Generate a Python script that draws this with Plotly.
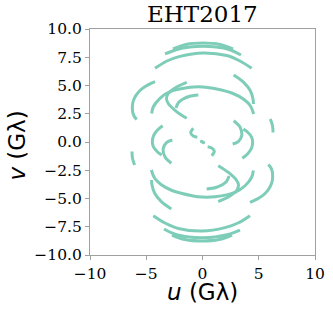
import plotly.graph_objects as go

# uv tracks (one of each conjugate pair); units: G-lambda
a1_u = [-3.33, -2.27, -1.11, 0.04, 1.2, 2.36, 3.42]
a1_v = [7.79, 8.19, 8.41, 8.47, 8.41, 8.19, 7.70]
a2_u = [-2.62, -1.47, 0.04, 1.56, 2.71]
a2_v = [8.23, 8.63, 8.76, 8.63, 8.23]
b_u = [-4.22, -3.16, -2.0, 0.04, 2.15, 3.33, 4.37]
b_v = [6.52, 7.17, 7.58, 7.88, 7.65, 7.17, 6.52]
c_u = [2.77, 3.66, 4.25, 4.49, 4.53]
c_v = [5.93, 5.28, 4.54, 3.81, 3.36]
d_u = [-4.52, -4.37, -3.78, -2.89, -1.11, 0.04, 0.93, 2.71, 3.69, 4.25, 4.55]
d_v = [2.52, 3.12, 3.87, 4.45, 4.84, 4.87, 4.75, 4.29, 3.76, 3.21, 2.48]
e_u = [-4.22, -5.02, -5.56, -6.0, -6.2, -6.22, -6.09, -5.85]
e_v = [5.35, 4.96, 4.56, 3.98, 3.45, 2.74, 2.30, 1.99]
f_u = [-1.40, -2.44, -3.07, -3.2, -3.04, -2.36, -1.40]
f_v = [5.27, 4.78, 4.25, 3.81, 3.41, 2.74, 2.10]
g_u = [-0.37, -1.2, -1.71, -2.13, -2.36]
g_v = [4.16, 4.03, 3.81, 3.5, 3.01]
h_u = [-3.54, -4.04, -4.36, -4.46, -4.36, -4.04, -3.63]
h_v = [1.44, 1.02, 0.53, 0.0, -0.44, -0.84, -1.15]
k_u = [2.77, 3.33, 3.5, 3.18, 2.68]
k_v = [1.88, 1.33, 0.62, 0.04, -0.18]
m_u = [6.03, 6.22, 6.27]
m_v = [2.04, 1.46, 0.84]
j_u = [-0.82, -1.05, -0.82, -0.46]
j_v = [1.21, 0.82, 0.53, 0.42]
dot_u = [-0.08]
dot_v = [0.05]

tracks = [(a1_u, a1_v), (a2_u, a2_v), (b_u, b_v), (c_u, c_v), (d_u, d_v),
          (e_u, e_v), (f_u, f_v), (g_u, g_v), (h_u, h_v), (k_u, k_v),
          (m_u, m_v), (j_u, j_v)]

x_ticks = [-10, -5, 0, 5, 10]
y_ticks = [-10, -7.5, -5, -2.5, 0, 2.5, 5, 7.5, 10]

color = "#7ecdb8"
fig = go.Figure()
for tu, tv in tracks:
    for sgn in (1, -1):
        fig.add_trace(go.Scatter(
            x=[sgn * x for x in tu], y=[sgn * y for y in tv],
            mode="lines", line=dict(color=color, width=3, shape="spline", smoothing=1.0),
            hoverinfo="skip", showlegend=False))
fig.add_trace(go.Scatter(
    x=dot_u + [-x for x in dot_u], y=dot_v + [-y for y in dot_v],
    mode="markers", marker=dict(color=color, size=3.5),
    hoverinfo="skip", showlegend=False))

axis_common = dict(showgrid=False, zeroline=False, showline=True, mirror=True,
                   automargin=False,
                   linecolor="#a0a0a0", linewidth=1.2, ticks="outside", ticklen=4,
                   tickcolor="#a0a0a0", tickwidth=1.2,
                   tickfont=dict(family="DejaVu Serif", size=15.5, color="black"))
fig.update_xaxes(range=[-10, 10], tickvals=x_ticks,
                 ticktext=[str(t).replace("-", "\u2212") for t in x_ticks], **axis_common)
fig.update_yaxes(range=[-10, 10], tickvals=y_ticks,
                 ticktext=[f"{t:.1f}".replace("-", "\u2212") for t in y_ticks], **axis_common)

fig.update_layout(
    width=333, height=310,
    margin=dict(l=90, r=18, t=29, b=55, autoexpand=False),
    paper_bgcolor="white", plot_bgcolor="white",
    annotations=[
        dict(text="EHT2017", xref="paper", yref="paper", x=0.5, y=1, xanchor="center",
             yanchor="bottom", showarrow=False,
             font=dict(family="DejaVu Serif", size=23, color="black")),
        dict(text="<i>u</i> (G\u03bb)", xref="paper", yref="paper", x=0.5, y=-0.164,
             xanchor="center", yanchor="middle", showarrow=False,
             font=dict(family="DejaVu Sans", size=23, color="black")),
        dict(text="<i>v</i> (G\u03bb)", xref="paper", yref="paper", x=-0.322, y=0.482,
             xanchor="center", yanchor="middle", showarrow=False, textangle=-90,
             font=dict(family="DejaVu Sans", size=23, color="black")),
    ],
)

fig.write_html("out.html", config={"displayModeBar": False},
               post_script="document.body.style.margin='0';document.body.style.overflow='hidden';")
